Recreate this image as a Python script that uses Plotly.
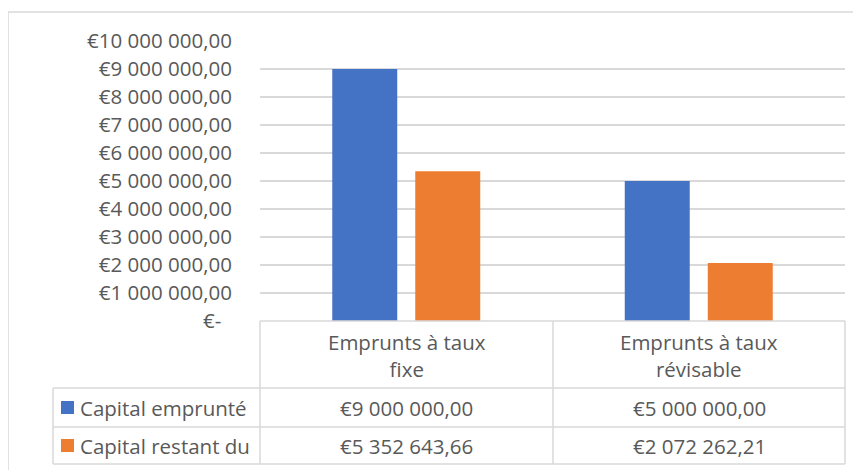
import plotly.graph_objects as go

# ---- data ----
categories = ["Emprunts à taux fixe", "Emprunts à taux révisable"]
category_labels = ["Emprunts à taux<br>fixe", "Emprunts à taux<br>révisable"]
series_names = ["Capital emprunté", "Capital restant du"]
capital_emprunte = [9000000.00, 5000000.00]
capital_restant = [5352643.66, 2072262.21]
series_values = [capital_emprunte, capital_restant]
series_colors = ["#4472C4", "#ED7D31"]
tick_values = [0, 1000000, 2000000, 3000000, 4000000, 5000000,
               6000000, 7000000, 8000000, 9000000, 10000000]


def fmt_eur(v):
    if v == 0:
        return "€-\u00a0\u00a0"
    s = f"{v:,.2f}"
    s = s.replace(",", " ").replace(".", ",")
    return "€" + s


# ---- layout geometry (screen pixels; page has an 8px body margin) ----
OFF = 8
W, H = 861 - OFF, 470 - OFF
L = 260 - OFF
R = W - (845 - OFF)
T = 41 - OFF
B = H - (321 - OFF)
PW = W - L - R
PH = H - T - B


def px(x):
    return (x - OFF - L) / PW


def py(y):
    return (H - B - (y - OFF)) / PH


FONT = "Open Sans"
TXT = "#595959"
GRID = "#D9D9D9"
FS = 20.5

fig = go.Figure()
for name, vals, col in zip(series_names, series_values, series_colors):
    fig.add_trace(go.Bar(x=categories, y=vals, name=name,
                         marker=dict(color=col, line=dict(width=0))))

shapes = []
# outer chart border
shapes.append(dict(type="rect", xref="paper", yref="paper",
                   x0=px(8), x1=px(880), y0=py(12), y1=py(490),
                   line=dict(color=GRID, width=1.5), fillcolor="rgba(0,0,0,0)", layer="below"))


def hline(x0, x1, y):
    shapes.append(dict(type="line", xref="paper", yref="paper",
                       x0=px(x0), x1=px(x1), y0=py(y), y1=py(y),
                       line=dict(color=GRID, width=1.5)))


def vline(x, y0, y1):
    shapes.append(dict(type="line", xref="paper", yref="paper",
                       x0=px(x), x1=px(x), y0=py(y0), y1=py(y1),
                       line=dict(color=GRID, width=1.5)))


col_x = [260, 553, 845]
hline(260, 845, 321)
hline(53, 845, 388)
hline(53, 845, 427)
hline(53, 845, 464)
for cx in col_x:
    vline(cx, 321, 464)
vline(53, 388, 464)

annotations = []
# header labels
for i, lab in enumerate(category_labels):
    cx = (col_x[i] + col_x[i + 1]) / 2
    annotations.append(dict(xref="paper", yref="paper", x=px(cx), y=py(355),
                            text=lab, showarrow=False, xanchor="center", yanchor="middle",
                            font=dict(family=FONT, size=FS, color=TXT)))

row_y = [408, 446]
for r, (name, vals, col) in enumerate(zip(series_names, series_values, series_colors)):
    y = row_y[r]
    shapes.append(dict(type="rect", xref="paper", yref="paper",
                       x0=px(61), x1=px(74), y0=py(y - 7), y1=py(y + 6),
                       line=dict(width=0), fillcolor=col))
    annotations.append(dict(xref="paper", yref="paper", x=px(78), y=py(y),
                            text=name, showarrow=False, xanchor="left", yanchor="middle",
                            font=dict(family=FONT, size=FS, color=TXT)))
    for i, v in enumerate(vals):
        cx = (col_x[i] + col_x[i + 1]) / 2
        annotations.append(dict(xref="paper", yref="paper", x=px(cx), y=py(y),
                                text=fmt_eur(v).replace("\u00a0", ""), showarrow=False,
                                xanchor="center", yanchor="middle",
                                font=dict(family=FONT, size=FS, color=TXT)))

fig.update_layout(
    width=W, height=H,
    margin=dict(l=L, r=R, t=T, b=B, autoexpand=False),
    paper_bgcolor="white", plot_bgcolor="white",
    barmode="group", bargap=0.4325, bargroupgap=0.217,
    showlegend=False,
    font=dict(family=FONT, size=FS, color=TXT),
    xaxis=dict(range=[-0.5, 1.5], showticklabels=False, showgrid=False,
               zeroline=False, showline=False, ticks=""),
    yaxis=dict(range=[0, 10000000], tickmode="array", tickvals=tick_values,
               ticktext=[fmt_eur(v) for v in tick_values],
               showgrid=True, gridcolor=GRID, gridwidth=1.5, zeroline=False,
               showline=False, ticks="", ticklabelstandoff=27,
               tickfont=dict(family=FONT, size=FS, color=TXT)),
    shapes=shapes, annotations=annotations,
)

fig.write_html("out.html")
